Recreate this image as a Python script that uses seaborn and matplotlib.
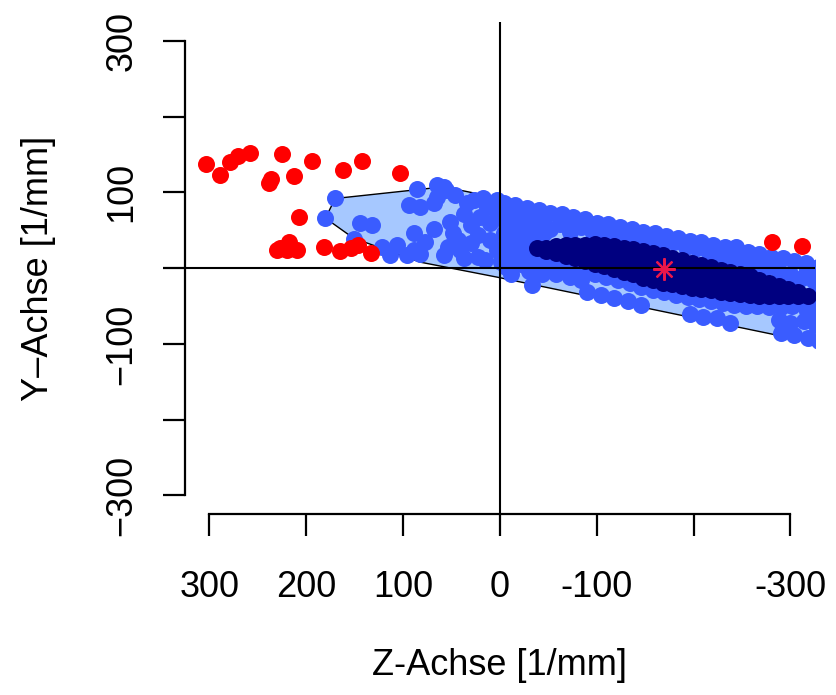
import matplotlib
matplotlib.use("Agg")
import matplotlib.pyplot as plt
import seaborn as sns

# points outside the hull (red)
red_z = [303, 289, 279, 270, 258, 238, 236, 225, 212, 194, 162, 142, 103,
         207, 227, 218, 209, 220, 230, 182, 165, 154, 146, 133, -281, -312]
red_y = [138, 123, 140, 148, 152, 112, 118, 151, 122, 141, 130, 142, 126,
         68, 26, 35, 24, 24, 24, 28, 23, 26, 30, 20, 35, 29]

# points inside the hull (blue)
blue_z = [170, 180, 86, 65, 94, 82, 68, 65, 144, 132, 151, 122, 106, 113, 89, 77,
          68, 89, 96, 82, 48, 53, 58, 41, 30, 34, 27, 17, 37, 20, 13, 23,
          10, 3, 37, 23, 10, -4, 3, 56, 46, 51, 43, 30, 15, -1, 2, 58,
          -2, -14, -26, -38, -6, -18, -32, -44, -4, -18, -32, -46, -14, -28, -42, -2,
          -16, -32, -6, -22, -38, -12, -30, -46, -50,
          -4, -16, -28, -40, -52, -64, -76, -88, -100, -112, -124, -136, -148, -160,
          -172, -184, -196, -208, -220, -232, -244, -256, -268, -280, -292, -304, -316, -328,
          -52, -62, -72, -84, -96, -108, -120, -132, -144, -156, -168, -180, -192, -204,
          -216, -228, -240, -252, -264, -276, -288, -300, -312, -324,
          -50, -62, -74, -86, -98, -110, -122, -134, -146, -158, -170, -182, -194, -206,
          -218, -230, -242, -254, -266, -278, -290, -302, -314, -326,
          -44, -58, -72, -84,
          -90, -104, -118, -132, -146, -196, -210, -224, -238, -290, -304, -318, -330,
          -288, -300, -314, -326, -320, -292, -317,
          -317, -306, -326, -318, -33]
blue_y = [92, 66, 105, 110, 83, 81, 86, 94, 59, 57, 39, 28, 30, 17, 46, 35,
          52, 24, 17, 19, 46, 28, 17, 24, 33, 86, 90, 92, 72, 68, 81, 44,
          37, 24, 13, 15, 59, 28, 90, 103, 97, 61, 37, 57, 11, 8, 70, 107,
          72, 74, 70, 66, 58, 55, 57, 58, 46, 42, 44, 46, 33, 30, 36, 14,
          18, 20, 2, 6, 8, -8, -4, -2, 8,
          86, 84, 80, 77, 73, 71, 67, 65, 60, 58, 55, 52, 48, 47,
          42, 40, 36, 34, 30, 28, 28, 21, 19, 15, 13, 9, 7, 2,
          52, 58, 48, 54, 46, 49, 42, 45, 38, 40, 33, 35, 28, 26,
          20, 18, 12, 10, 4, 1, -4, -8, -13, -17,
          10, 4, 0, -4, -8, -12, -16, -20, -25, -29, -32, -35, -38, -41,
          -44, -46, -48, -50, -50, -51, -51, -50, -48, -45,
          -8, -8, -12, -16,
          -32, -36, -40, -44, -48, -60, -64, -66, -72, -86, -88, -92, -96,
          -68, -72, -70, -75, -60, -78, -56,
          -3, -25, -30, -40, -22]

# dense core (navy)
navy_z = [-38, -48, -48, -58, -58, -68, -68, -68, -78, -78, -78, -88, -88, -88,
          -98, -98, -98, -108, -108, -108, -118, -118, -118, -128, -128, -128,
          -138, -138, -138, -148, -148, -148, -158, -158, -158, -168, -168, -168,
          -178, -178, -178, -188, -188, -188, -198, -198, -198, -208, -208, -208,
          -218, -218, -218, -228, -228, -228, -238, -238, -238, -248, -248, -248,
          -258, -258, -258, -268, -268, -268, -278, -278, -278, -288, -288, -288,
          -298, -298, -308, -308, -318]
navy_y = [27, 27, 23, 29, 20, 30, 23, 16, 31, 22, 13, 31, 20, 10,
          32, 19, 6, 31, 17, 3, 29, 14, -1, 27, 11, -5,
          25, 8, -8, 23, 5, -13, 20, 2, -16, 17, -1, -19,
          14, -3, -21, 11, -6, -23, 7, -9, -26, 4, -12, -28,
          1, -14, -29, -2, -16, -31, -5, -19, -33, -8, -21, -34,
          -11, -23, -35, -15, -26, -37, -19, -28, -37, -23, -30, -37,
          -27, -37, -31, -37, -37]

# convex hull of the blue points
hull_z = [170, 58, -341, -341, 2.6, 82, 151, 180]
hull_y = [92, 107.4, 3.3, -103, -11.9, 7.9, 39.6, 66]

# centre marker
mean_z = [-170]
mean_y = [-1]

x_ticks = [300, 200, 100, 0, -100, -200, -300]
x_labels = ["300", "200", "100", "0", "-100", "", "-300"]
y_ticks = [-300, -200, -100, 0, 100, 200, 300]
y_labels = ["\u2212300", "", "\u2212100", "", "100", "", "300"]

sns.set_style("ticks")
plt.rcParams["font.family"] = ["Liberation Sans", "DejaVu Sans"]

fig = plt.figure(figsize=(8.36, 6.95), dpi=100)
ax = fig.add_axes([0.2213, 0.26, 0.7531, 0.7083])

dot = 150
ax.fill(hull_z, hull_y, facecolor="#a6c8ff", edgecolor="black", linewidth=1.0, zorder=1)
sns.scatterplot(x=blue_z, y=blue_y, color="#3a5cff", s=dot, linewidth=0, ax=ax, zorder=2)
sns.scatterplot(x=navy_z, y=navy_y, color="#000080", s=dot, linewidth=0, ax=ax, zorder=3)
sns.scatterplot(x=red_z, y=red_y, color="#ff0000", s=dot, linewidth=0, ax=ax, zorder=4)
ax.axhline(0, color="black", lw=1.5, zorder=5)
ax.axvline(0, color="black", lw=1.5, zorder=5)
ax.plot(mean_z, mean_y, ls="none", marker=(8, 2, 0), ms=16, mew=1.6,
        color="#e8174a", zorder=6)

ax.set_xlim(325, -325)
ax.set_ylim(-325, 325)

for side in ["top", "right"]:
    ax.spines[side].set_visible(False)
for side in ["left", "bottom"]:
    ax.spines[side].set_bounds(-300, 300)
    ax.spines[side].set_linewidth(1.6)
    ax.spines[side].set_color("black")

ax.set_xticks(x_ticks, x_labels)
ax.set_yticks(y_ticks, y_labels)
ax.tick_params(length=15.8, width=1.6, direction="out", color="black",
               labelcolor="black", labelsize=26)
ax.tick_params(axis="x", pad=24)
ax.tick_params(axis="y", pad=16.8, labelrotation=90)
for lbl in ax.get_yticklabels():
    lbl.set_va("center")

ax.set_xlabel("Z-Achse [1/mm]", fontsize=26, color="black")
ax.xaxis.set_label_coords(0.5, -0.3264)
ax.xaxis.label.set_va("baseline")
ax.set_ylabel("Y\u2013Achse [1/mm]", fontsize=26, color="black")
ax.yaxis.set_label_coords(-0.2176, 0.5)
ax.yaxis.label.set_va("baseline")

fig.savefig("out.png", dpi=100)
